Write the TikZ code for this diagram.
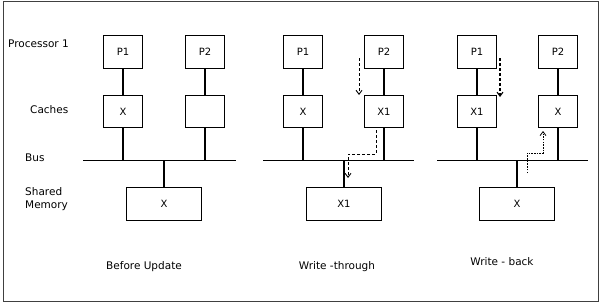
\documentclass[tikz,border=0pt]{standalone}
\usepackage{fontspec}
\setmainfont{DejaVu Sans}
\usetikzlibrary{arrows.meta}
\begin{document}
\begin{tikzpicture}[x=1pt,y=-1pt,
  box/.style={draw, line width=1pt, minimum height=33pt, inner sep=0pt, font=\fontsize{10}{12}\selectfont},
  pbox/.style={box, minimum width=39pt},
  cbox/.style={box, minimum width=39pt, minimum height=32pt},
  mbox/.style={box, minimum width=75pt},
  link/.style={line width=2pt},
  bus/.style={line width=1.4pt},
  lbl/.style={font=\fontsize{10.5}{13}\selectfont, inner sep=0pt},
  dsh/.style={dash pattern=on 3pt off 2pt, line width=0.9pt, -{Straight Barb[length=4pt,width=6pt]}},
  dot/.style={dash pattern=on 1.5pt off 1.2pt, line width=0.8pt, -{Straight Barb[length=4pt,width=6pt]}}
]
\useasboundingbox (0,0) rectangle (600,303);
\draw[line width=0.8pt, black!75] (3,1) rectangle (598,301);

% side labels
\node[lbl, anchor=west] (lp) at (8,44) {Processor 1};
\node[lbl, anchor=west] (lc) at (30,110) {Caches};
\node[lbl, anchor=west] (lb) at (25,158) {Bus};
\node[lbl, anchor=west, align=left] (lm) at (25,199) {Shared\\Memory};

% ---------- Panel 1 ----------
\node[pbox] (aP1) at (123,52) {P1};
\node[pbox] (aP2) at (205,52) {P2};
\node[cbox] (aC1) at (123,111.5) {X};
\node[cbox] (aC2) at (205,111.5) {};
\node[mbox] (aM) at (164,204) {X};
\coordinate (aBL) at (83,160.5);
\coordinate (aBR) at (236,160.5);
\draw[bus] (aBL) -- (aBR);
\draw[link] (aP1) -- (aC1);
\draw[link] (aP2) -- (aC2);
\draw[link] (aC1.south) -- (aC1.south |- aBL);
\draw[link] (aC2.south) -- (aC2.south |- aBL);
\draw[link] (aM.north) -- (aM.north |- aBL);
\node[lbl] (aT) at (144,267) {Before Update};

% ---------- Panel 2 ----------
\node[pbox] (bP1) at (303,52) {P1};
\node[pbox] (bP2) at (384,52) {P2};
\node[cbox] (bC1) at (303,111.5) {X};
\node[cbox] (bC2) at (384,111.5) {X1};
\node[mbox] (bM) at (344,204) {X1};
\coordinate (bBL) at (263,160.5);
\coordinate (bBR) at (414,160.5);
\draw[bus] (bBL) -- (bBR);
\draw[link] (bP1) -- (bC1);
\draw[link] (bP2) -- (bC2);
\draw[link] (bC1.south) -- (bC1.south |- bBL);
\draw[link] (bC2.south) -- (bC2.south |- bBL);
\draw[link] (bM.north) -- (bM.north |- bBL);
\coordinate (bA1s) at (359,58);
\coordinate (bA1e) at (359,95);
\draw[dsh] (bA1s) -- (bA1e);
\coordinate (bA2s) at (376,130);
\coordinate (bA2e) at (348,178);
\draw[dsh] (bA2s) -- (376,154) -- (348,154) -- (bA2e);
\node[lbl] (bT) at (337,267) {Write -through};

% ---------- Panel 3 ----------
\node[pbox] (cP1) at (477,52) {P1};
\node[pbox] (cP2) at (558,52) {P2};
\node[cbox] (cC1) at (477,111.5) {X1};
\node[cbox] (cC2) at (558,111.5) {X};
\node[mbox] (cM) at (517,204) {X};
\coordinate (cBL) at (437,160.5);
\coordinate (cBR) at (588,160.5);
\draw[bus] (cBL) -- (cBR);
\draw[link] (cP1) -- (cC1);
\draw[link] (cP2) -- (cC2);
\draw[link] (cC1.south) -- (cC1.south |- cBL);
\draw[link] (cC2.south) -- (cC2.south |- cBL);
\draw[link] (cM.north) -- (cM.north |- cBL);
\coordinate (cA1s) at (500,58);
\coordinate (cA1e) at (500,97);
\draw[dsh, line width=1.1pt] (cA1s) -- (cA1e);
\coordinate (cA2s) at (527,173);
\coordinate (cA2e) at (543,131);
\draw[dot] (cA2s) -- (527,153) -- (543,153) -- (cA2e);
\node[lbl] (cT) at (502,262) {Write - back};
\end{tikzpicture}
\end{document}
